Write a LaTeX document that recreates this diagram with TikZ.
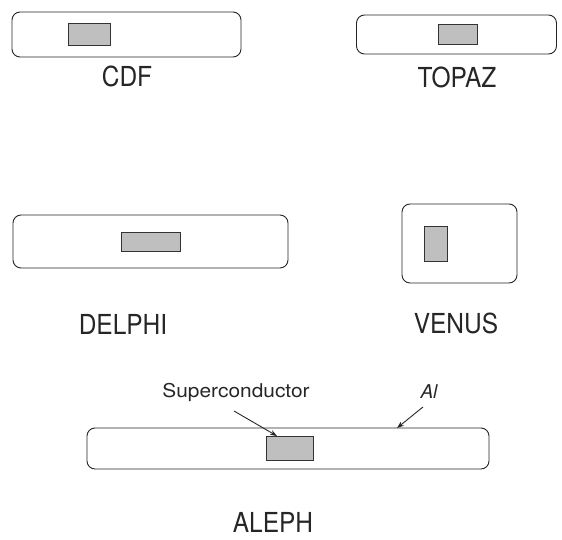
\documentclass[tikz,border=0pt]{standalone}
\usepackage{fontspec}
\setmainfont{TeX Gyre Heros}
\usetikzlibrary{arrows.meta}
\tikzset{
  outerbox/.style={draw=black!85, line width=0.9pt, rounded corners=8pt, inner sep=0pt, outer sep=0pt},
  condbox/.style={draw=black!80, line width=0.8pt, fill=black!25, inner sep=0pt, outer sep=0pt},
  biglabel/.style={font=\fontsize{25.5}{28}\selectfont, text=black!85, inner sep=0pt},
  smalllabel/.style={font=\fontsize{19}{22}\selectfont, text=black!85, inner sep=0pt},
  pointer/.style={draw=black!85, line width=0.9pt, -{Stealth[length=7pt,width=5pt]}}
}
\begin{document}
\begin{tikzpicture}[x=1pt,y=-1pt]
\useasboundingbox (0,0) rectangle (562,540);
% CDF
\node[outerbox, minimum width=229pt, minimum height=45pt] (cdf) at (126.5,34.5) {};
\node[condbox, minimum width=42pt, minimum height=22pt] (cdfsc) at (89,34) {};
\node[biglabel] (cdflabel) at (127,76) {\scalebox{0.96}[1.08]{CDF}};
% TOPAZ
\node[outerbox, minimum width=200pt, minimum height=39pt] (topaz) at (456.5,34.5) {};
\node[condbox, minimum width=39pt, minimum height=20pt] (topazsc) at (457.5,34) {};
\node[biglabel] (topazlabel) at (457,77) {\scalebox{0.96}[1.08]{TOPAZ}};
% DELPHI
\node[outerbox, minimum width=275pt, minimum height=53pt] (delphi) at (150.5,241.5) {};
\node[condbox, minimum width=59pt, minimum height=19pt] (delphisc) at (150.5,241.5) {};
\node[biglabel] (delphilabel) at (123,324) {\scalebox{0.96}[1.08]{DELPHI}};
% VENUS
\node[outerbox, minimum width=115pt, minimum height=79pt] (venus) at (459.5,243.5) {};
\node[condbox, minimum width=23pt, minimum height=35pt] (venussc) at (435.5,243.5) {};
\node[biglabel] (venuslabel) at (456,323) {\scalebox{0.96}[1.08]{VENUS}};
% ALEPH
\node[outerbox, minimum width=402pt, minimum height=41pt] (aleph) at (288,448.5) {};
\node[condbox, minimum width=47pt, minimum height=24pt] (alephsc) at (289.5,448) {};
\node[biglabel] (alephlabel) at (273,522) {\scalebox{0.96}[1.08]{ALEPH}};
\node[smalllabel] (sclabel) at (236,392) {\scalebox{1.1}[1]{Superconductor}};
\node[smalllabel] (allabel) at (429,392) {\itshape Al};
\coordinate (scstart) at (234,411);
\coordinate (sctip) at (277,436);
\coordinate (alstart) at (423,407);
\coordinate (altip) at (397,428);
\draw[pointer] (scstart) -- (sctip);
\draw[pointer] (alstart) -- (altip);
\end{tikzpicture}
\end{document}
